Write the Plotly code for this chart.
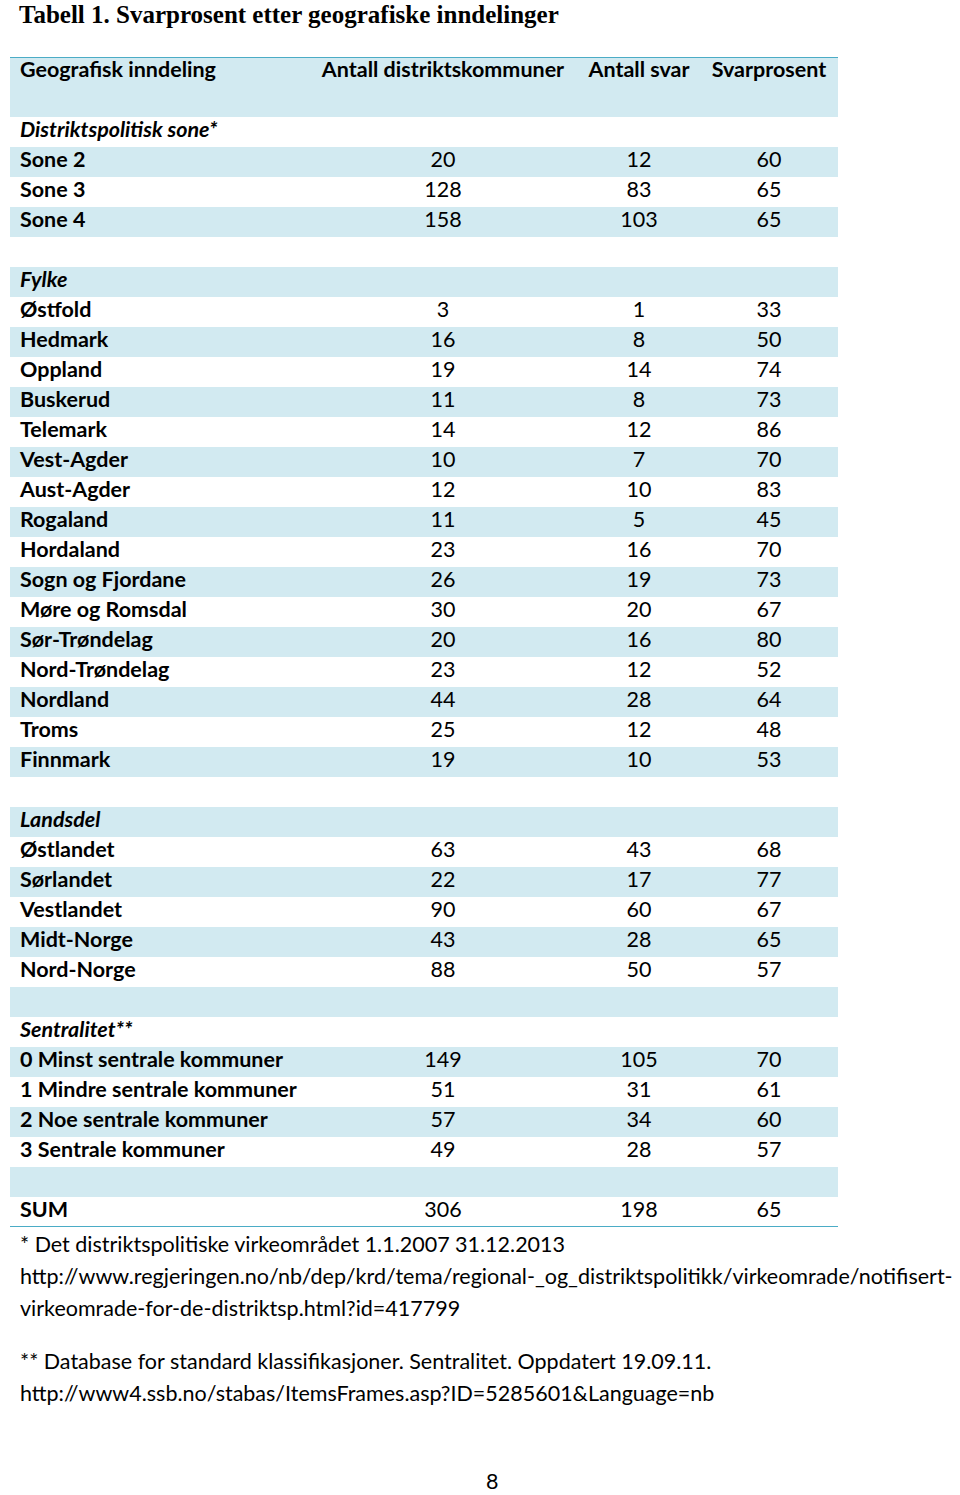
import plotly.graph_objects as go

# ------------------------------------------------------------
# Data - Tabell 1. Svarprosent etter geografiske inndelinger
# ------------------------------------------------------------
columns = ["Geografisk inndeling", "Antall distriktskommuner", "Antall svar", "Svarprosent"]

labels = [
    "Distriktspolitisk sone*", "Sone 2", "Sone 3", "Sone 4", "",
    "Fylke", "Østfold", "Hedmark", "Oppland", "Buskerud", "Telemark", "Vest-Agder",
    "Aust-Agder", "Rogaland", "Hordaland", "Sogn og Fjordane", "Møre og Romsdal",
    "Sør-Trøndelag", "Nord-Trøndelag", "Nordland", "Troms", "Finnmark", "",
    "Landsdel", "Østlandet", "Sørlandet", "Vestlandet", "Midt-Norge", "Nord-Norge", "",
    "Sentralitet**", "0 Minst sentrale kommuner", "1 Mindre sentrale kommuner",
    "2 Noe sentrale kommuner", "3 Sentrale kommuner", "",
    "SUM",
]
section_headers = ["Distriktspolitisk sone*", "Fylke", "Landsdel", "Sentralitet**"]

antall_kommuner = [None, 20, 128, 158, None,
                   None, 3, 16, 19, 11, 14, 10, 12, 11, 23, 26, 30, 20, 23, 44, 25, 19, None,
                   None, 63, 22, 90, 43, 88, None,
                   None, 149, 51, 57, 49, None,
                   306]
antall_svar = [None, 12, 83, 103, None,
               None, 1, 8, 14, 8, 12, 7, 10, 5, 16, 19, 20, 16, 12, 28, 12, 10, None,
               None, 43, 17, 60, 28, 50, None,
               None, 105, 31, 34, 28, None,
               198]
svarprosent = [None, 60, 65, 65, None,
               None, 33, 50, 74, 73, 86, 70, 83, 45, 70, 73, 67, 80, 52, 64, 48, 53, None,
               None, 68, 77, 67, 65, 57, None,
               None, 70, 61, 60, 57, None,
               65]

footnotes = [
    "* Det distriktspolitiske virkeområdet 1.1.2007 31.12.2013",
    "http://www.regjeringen.no/nb/dep/krd/tema/regional-_og_distriktspolitikk/virkeomrade/notifisert-",
    "virkeomrade-for-de-distriktsp.html?id=417799",
    "** Database for standard klassifikasjoner. Sentralitet. Oppdatert 19.09.11.",
    "http://www4.ssb.no/stabas/ItemsFrames.asp?ID=5285601&Language=nb",
]

# ------------------------------------------------------------
# Layout constants (page pixels)
# ------------------------------------------------------------
W, H = 960, 1495
TABLE_LEFT, TABLE_RIGHT = 10, 838
TABLE_TOP, ROW_H = 57, 30
HEADER_ROWS = 2
N = len(labels)
TABLE_BOTTOM = TABLE_TOP + ROW_H * (HEADER_ROWS + N)
TABLE_W = TABLE_RIGHT - TABLE_LEFT

ML, MT = TABLE_LEFT, TABLE_TOP
MR, MB = W - TABLE_RIGHT, H - TABLE_BOTTOM
PW, PH = W - ML - MR, H - MT - MB

# column text anchors along the table width
COL_X = [10, 433, 629, 759]

BLUE = "#d2eaf1"
TEAL = "#4bacc6"
FONT = "Lato"
TITLE_FONT = "Liberation Serif"
FS = 21.5


def page_x(x):
    return (x - ML) / PW


def page_y(y):
    return 1 - (y - MT) / PH


def fmt(v):
    return "" if v is None else str(v)


def label_fmt(s):
    if s in section_headers:
        return "<b><i>%s</i></b>" % s
    return "<b>%s</b>" % s if s else ""


rows_y = [i + 0.5 for i in range(N)]
blue_rows = [y for i, y in enumerate(rows_y) if i % 2 == 1]

fig = go.Figure()

# header band + banded rows
fig.add_trace(go.Bar(y=[-HEADER_ROWS / 2], x=[TABLE_W], width=[HEADER_ROWS], orientation="h",
                     marker=dict(color=BLUE, line=dict(width=0)), hoverinfo="skip"))
fig.add_trace(go.Bar(y=blue_rows, x=[TABLE_W] * len(blue_rows), width=[1] * len(blue_rows),
                     orientation="h", marker=dict(color=BLUE, line=dict(width=0)),
                     hoverinfo="skip"))

# header text
fig.add_trace(go.Scatter(x=[COL_X[0]], y=[-1.5], mode="text", text=["<b>%s</b>" % columns[0]],
                         textposition="middle right", hoverinfo="skip",
                         textfont=dict(family=FONT, size=FS, color="black")))
fig.add_trace(go.Scatter(x=COL_X[1:], y=[-1.5] * 3, mode="text",
                         text=["<b>%s</b>" % c for c in columns[1:]],
                         textposition="middle center", hoverinfo="skip",
                         textfont=dict(family=FONT, size=FS, color="black")))

# first column labels
fig.add_trace(go.Scatter(x=[COL_X[0]] * N, y=rows_y, mode="text",
                         text=[label_fmt(s) for s in labels],
                         textposition="middle right", hoverinfo="skip",
                         textfont=dict(family=FONT, size=FS, color="black")))

# value columns
for cx, vals in zip(COL_X[1:], [antall_kommuner, antall_svar, svarprosent]):
    fig.add_trace(go.Scatter(x=[cx] * N, y=rows_y, mode="text",
                             text=[fmt(v) for v in vals],
                             textposition="middle center", hoverinfo="skip",
                             textfont=dict(family=FONT, size=FS, color="black")))

# teal rules on top of header and under SUM
for yv in (-HEADER_ROWS, N):
    fig.add_shape(type="line", xref="x", yref="y", x0=0, x1=TABLE_W, y0=yv, y1=yv,
                  line=dict(color=TEAL, width=2))

# title
fig.add_annotation(text="<b>Tabell 1. Svarprosent etter geografiske inndelinger</b>",
                   xref="paper", yref="paper", x=page_x(18), y=page_y(0),
                   xanchor="left", yanchor="top", showarrow=False, borderpad=0,
                   font=dict(family=TITLE_FONT, size=25, color="black"))

# footnotes
foot_y = [1244, 1276, 1308, 1361, 1393]
for txt, y in zip(footnotes, foot_y):
    fig.add_annotation(text=txt, xref="paper", yref="paper", x=page_x(18), y=page_y(y),
                       xanchor="left", yanchor="middle", showarrow=False,
                       font=dict(family=FONT, size=FS, color="black"))

# page number
fig.add_annotation(text="8", xref="paper", yref="paper", x=page_x(492), y=page_y(1495),
                   xanchor="center", yanchor="bottom", showarrow=False, borderpad=0,
                   font=dict(family=FONT, size=FS, color="black"))

fig.update_layout(
    width=W, height=H,
    margin=dict(l=ML, r=MR, t=MT, b=MB),
    paper_bgcolor="white", plot_bgcolor="white",
    showlegend=False, bargap=0,
    xaxis=dict(range=[0, TABLE_W], visible=False, fixedrange=True),
    yaxis=dict(range=[N, -HEADER_ROWS], visible=False, fixedrange=True),
)

# drop the default body margin so the figure sits flush with the page
fig.write_html("out.html", config={"displayModeBar": False},
               post_script="document.body.style.margin='0px';")
